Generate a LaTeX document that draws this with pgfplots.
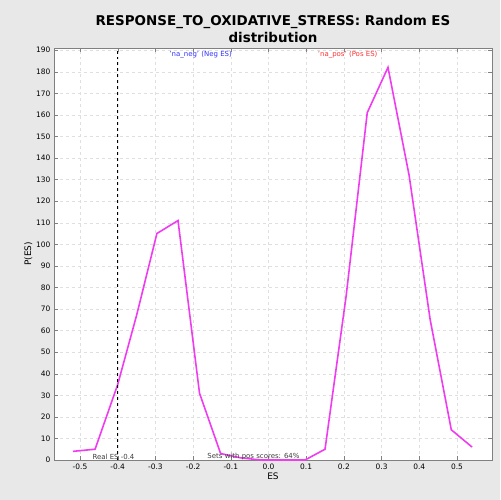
\documentclass[border=0pt]{standalone}
\usepackage{pgfplots}
\pgfplotsset{compat=1.18}
\usepackage{fontspec}
\setmainfont{DejaVu Sans}
\begin{document}
\begin{tikzpicture}[x=1bp,y=1bp]
\fill[gray!18] (-54,-40) rectangle (446,460);
\begin{axis}[at={(0,0)},anchor=south west,
width=438bp,height=412bp,scale only axis,
xmin=-0.569,xmax=0.593,ymin=0,ymax=191,
xtick={-0.5,-0.4,...,0.5},ytick={0,10,...,190},
xticklabel style={/pgf/number format/fixed,/pgf/number format/precision=1,/pgf/number format/fixed zerofill},
/pgf/number format/assume math mode=true,
tick label style={font=\fontsize{7.5}{9}\selectfont},
grid=major,grid style={dashed,gray!25},
axis line style={gray},tick style={gray},
axis background/.style={fill=white},
xlabel={ES},ylabel={P(ES)},
xlabel style={yshift=3pt},ylabel style={yshift=-3pt},
label style={font=\fontsize{9}{10}\selectfont},
title={\textbf{RESPONSE\_TO\_OXIDATIVE\_STRESS: Random ES}\\\textbf{distribution}},
title style={align=center,font=\fontsize{13.5}{17}\selectfont,yshift=-4pt},
]
\addplot[line width=1.6pt,color={rgb,255:red,240;green,60;blue,240}] coordinates {
(-0.519,4)(-0.46,5)(-0.40,35)(-0.35,67)(-0.296,105)(-0.24,111)(-0.183,31)(-0.127,3)(-0.074,1)(-0.02,0)(0.04,0)(0.097,0)(0.15,5)(0.206,76)(0.262,161)(0.317,182)(0.373,132)(0.429,65)(0.485,14)(0.54,6)};
\addplot[black,dashed,line width=1.3pt] coordinates {(-0.4,0)(-0.4,191)};
\node[blue!80,font=\fontsize{7}{8}\selectfont] at (axis cs:-0.18,188) {'na\_neg' (Neg ES)};
\node[red!80,font=\fontsize{7}{8}\selectfont] at (axis cs:0.21,188) {'na\_pos' (Pos ES)};
\node[gray!50!black,font=\fontsize{7}{8}\selectfont,anchor=south west,inner sep=1pt] at (axis cs:-0.47,-0.5) {Real ES -0.4};
\node[gray!50!black,font=\fontsize{7}{8}\selectfont,anchor=south west,inner sep=1pt] at (axis cs:-0.165,-0.5) {Sets with pos scores: 64\%};
\end{axis}
\end{tikzpicture}
\end{document}
